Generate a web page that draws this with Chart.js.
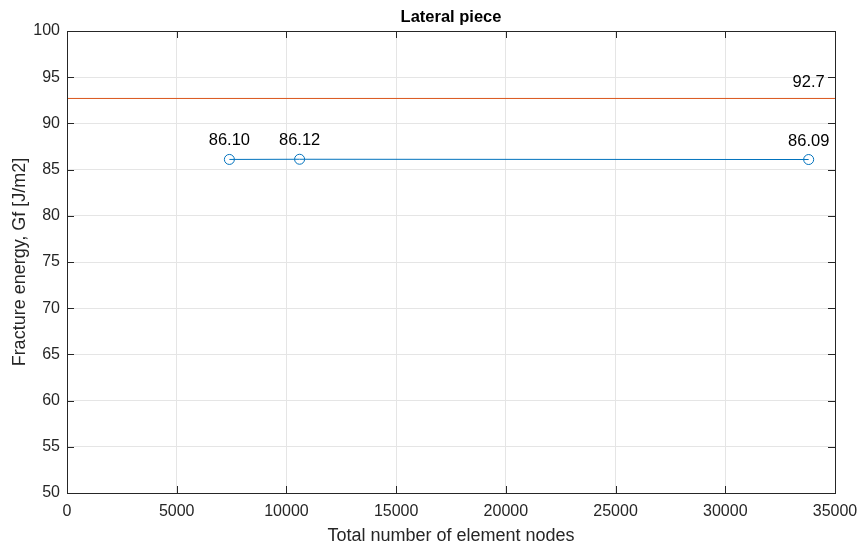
<!DOCTYPE html>
<html>
<head>
<meta charset="utf-8">
<script src="https://cdn.jsdelivr.net/npm/chart.js@4/dist/chart.umd.min.js"></script>
<style>
  html, body { margin: 0; padding: 0; background: #fff; }
  #wrap { width: 864px; height: 547px; }
</style>
</head>
<body>
<div id="wrap"><canvas id="c" width="864" height="547"></canvas></div>
<script>
// Mesh convergence data
const nodeCounts = [7400, 10600, 33800];
const fractureEnergy = [86.10, 86.12, 86.09];
const referenceEnergy = 92.7;
const xRange = [0, 35000];
const yRange = [50, 100];

const FONT = '"Liberation Sans", Arial, Helvetica, sans-serif';
const AXIS = '#262626';
const GRID = '#e5e5e5';
const BLUE = '#0072BD';
const ORANGE = '#D95319';

// Frame, inward tick marks, value labels and title
const framePlugin = {
  id: 'frame',
  afterDatasetsDraw(chart) {
    const { ctx, chartArea: a, scales } = chart;
    const xs = scales.x, ys = scales.y;
    ctx.save();
    ctx.strokeStyle = AXIS;
    ctx.lineWidth = 1;
    ctx.strokeRect(Math.round(a.left) + 0.5, Math.round(a.top) + 0.5,
                   Math.round(a.right - a.left), Math.round(a.bottom - a.top));
    const tl = 7;
    ctx.beginPath();
    xs.ticks.forEach(t => {
      const px = Math.round(xs.getPixelForValue(t.value)) + 0.5;
      ctx.moveTo(px, a.bottom); ctx.lineTo(px, a.bottom - tl);
      ctx.moveTo(px, a.top); ctx.lineTo(px, a.top + tl);
    });
    ys.ticks.forEach(t => {
      const py = Math.round(ys.getPixelForValue(t.value)) + 0.5;
      ctx.moveTo(a.left, py); ctx.lineTo(a.left + tl, py);
      ctx.moveTo(a.right, py); ctx.lineTo(a.right - tl, py);
    });
    ctx.stroke();

    // value labels
    ctx.fillStyle = '#000';
    ctx.font = '16.5px ' + FONT;
    ctx.textAlign = 'center';
    ctx.textBaseline = 'alphabetic';
    nodeCounts.forEach((n, i) => {
      const px = xs.getPixelForValue(n);
      const py = ys.getPixelForValue(fractureEnergy[i]);
      ctx.fillText(fractureEnergy[i].toFixed(2), px, py - 14);
    });
    const rx = xs.getPixelForValue(nodeCounts[nodeCounts.length - 1]);
    const ry = ys.getPixelForValue(referenceEnergy);
    ctx.fillText(referenceEnergy.toFixed(1), rx, ry - 11);

    // title
    ctx.font = 'bold 16.5px ' + FONT;
    ctx.fillStyle = '#000';
    ctx.fillText('Lateral piece', (a.left + a.right) / 2, 22);
    ctx.restore();
  }
};

new Chart(document.getElementById('c'), {
  type: 'scatter',
  data: {
    datasets: [
      {
        label: 'Gf',
        data: nodeCounts.map((n, i) => ({ x: n, y: fractureEnergy[i] })),
        showLine: true,
        borderColor: BLUE,
        borderWidth: 1,
        pointStyle: 'circle',
        pointRadius: 5,
        pointBorderWidth: 1,
        pointBorderColor: BLUE,
        pointBackgroundColor: 'rgba(0,0,0,0)',
        order: 1
      },
      {
        label: 'Reference',
        data: [{ x: xRange[0], y: referenceEnergy }, { x: xRange[1], y: referenceEnergy }],
        showLine: true,
        borderColor: ORANGE,
        borderWidth: 1,
        pointRadius: 0,
        order: 2
      }
    ]
  },
  options: {
    responsive: false,
    animation: false,
    devicePixelRatio: 1,
    layout: { padding: { top: 31, right: 29, left: 0, bottom: 0 } },
    plugins: {
      legend: { display: false },
      tooltip: { enabled: false },
      title: { display: false }
    },
    scales: {
      x: {
        type: 'linear',
        min: xRange[0], max: xRange[1],
        afterFit(s) { s.height = 54; s.paddingLeft = 0; s.paddingRight = 0; },
        ticks: {
          stepSize: 5000,
          color: AXIS,
          font: { family: FONT, size: 16 },
          padding: 9,
          maxRotation: 0,
          autoSkip: false,
          callback: v => String(v)
        },
        grid: { color: GRID, drawTicks: false, lineWidth: 1 },
        border: { display: false },
        title: {
          display: true,
          text: 'Total number of element nodes',
          color: AXIS,
          font: { family: FONT, size: 18 },
          padding: { top: 0, bottom: 0 }
        }
      },
      y: {
        type: 'linear',
        min: yRange[0], max: yRange[1],
        afterFit(s) { s.width = 67; s.paddingTop = 0; s.paddingBottom = 0; },
        ticks: {
          stepSize: 5,
          color: AXIS,
          font: { family: FONT, size: 16 },
          padding: 7
        },
        grid: { color: GRID, drawTicks: false, lineWidth: 1 },
        border: { display: false },
        title: {
          display: true,
          text: 'Fracture energy, Gf [J/m2]',
          color: AXIS,
          font: { family: FONT, size: 18 },
          padding: { top: 9, bottom: 0 }
        }
      }
    }
  },
  plugins: [framePlugin]
});
</script>
</body>
</html>
